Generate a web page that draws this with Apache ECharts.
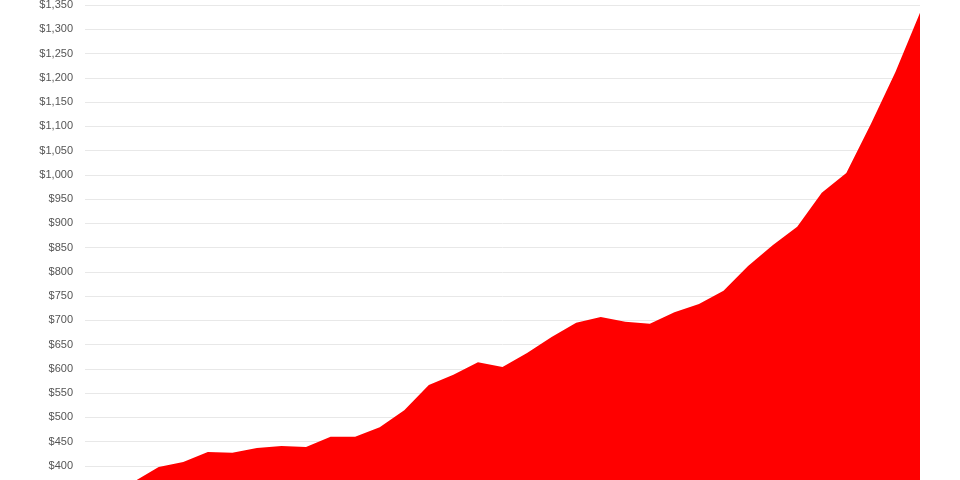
<!DOCTYPE html>
<html>
<head>
<meta charset="utf-8">
<script src="https://cdn.jsdelivr.net/npm/echarts@6/dist/echarts.min.js"></script>
<style>
html, body { margin: 0; padding: 0; background: #fff; overflow: hidden; }
#main { width: 960px; height: 520px; }
</style>
</head>
<body>
<div id="main"></div>
<script>
// 数据
var periods = [];
for (var i = 1; i <= 35; i++) { periods.push('P' + i); }
var prices = [340, 355, 368, 398, 408, 429, 427, 437, 441, 439,
              460, 460, 480, 515, 567, 588, 614, 604, 633, 666,
              695, 707, 697, 693, 717, 734, 761, 812, 855, 893,
              963, 1004, 1105, 1212, 1334];
var yMin = 300, yMax = 1350, yStep = 50;

var myChart = echarts.init(document.getElementById('main'));

myChart.setOption({
    animation: false,
    grid: { left: 85, right: 40, top: 5, bottom: 5.5, containLabel: false, outerBoundsMode: 'none' },
    xAxis: {
        type: 'category',
        boundaryGap: false,
        data: periods,
        show: false
    },
    yAxis: {
        type: 'value',
        min: yMin,
        max: yMax,
        interval: yStep,
        axisLine: { show: false },
        axisTick: { show: false },
        splitLine: { lineStyle: { color: '#e8e8e8', width: 1 } },
        axisLabel: {
            margin: 12,
            color: '#555',
            fontSize: 11,
            fontFamily: 'Liberation Sans, Arial, sans-serif',
            formatter: function (val) {
                return '$' + val.toLocaleString('en-US');//千分位
            }
        }
    },
    series: [
        {
            type: 'line',
            data: prices,
            showSymbol: false,
            lineStyle: { width: 0, color: '#ff0000' },
            itemStyle: { color: '#ff0000' },
            areaStyle: { color: '#ff0000', opacity: 1 }
        }
    ]
});
</script>
</body>
</html>
